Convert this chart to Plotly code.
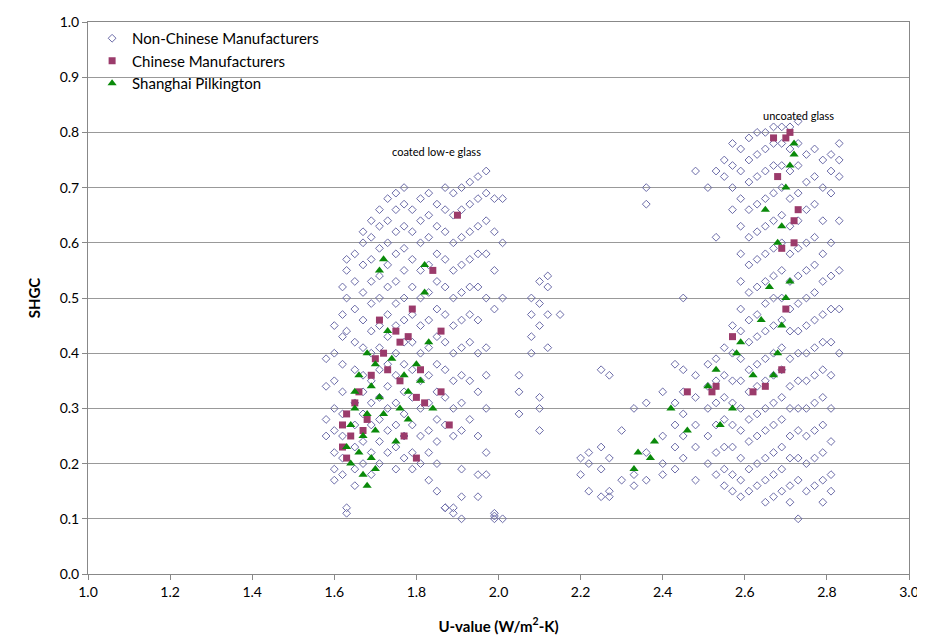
import plotly.graph_objects as go

# Non-Chinese manufacturers: U-value columns and the SHGC values read along each column
nc_u = [1.58, 1.60, 1.62, 1.63, 1.65, 1.67, 1.69, 1.71, 1.73, 1.75, 1.77, 1.79, 1.81, 1.83,
        1.85, 1.87, 1.89, 1.91, 1.93, 1.95, 1.97, 1.99, 2.01, 2.05, 2.08, 2.10, 2.12, 2.15,
        2.20, 2.22, 2.25, 2.27, 2.30, 2.33, 2.36, 2.40, 2.43, 2.45, 2.48, 2.51, 2.53, 2.55,
        2.57, 2.59, 2.61, 2.63, 2.65, 2.67, 2.69, 2.71, 2.73, 2.75, 2.77, 2.79, 2.81, 2.83]
nc_shgc = [
    [.39, .34, .28, .25],
    [.45, .40, .35, .30, .26, .22, .19, .17],
    [.52, .47, .43, .38, .33, .29, .25, .21, .18],
    [.57, .55, .50, .44, .12, .11],
    [.58, .53, .48, .42, .37, .31, .27, .23, .19, .16],
    [.62, .60, .56, .51, .46, .41, .36, .33, .29, .24, .20],
    [.64, .61, .57, .53, .49, .44, .40, .35, .31, .27, .22, .18],
    [.66, .63, .59, .54, .50, .45, .41, .37, .32, .28, .24, .20],
    [.68, .64, .60, .56, .52, .47, .43, .38, .34, .30, .26, .22],
    [.69, .66, .62, .58, .53, .49, .45, .40, .36, .31, .27, .23, .19],
    [.70, .67, .63, .59, .55, .50, .46, .42, .38, .33, .29, .25, .21],
    [.66, .62, .57, .52, .47, .42, .37, .32, .27, .22, .19],
    [.68, .64, .60, .55, .50, .45, .40, .35, .30, .25, .20],
    [.69, .65, .61, .56, .51, .46, .41, .36, .31, .26, .22, .17],
    [.67, .63, .58, .53, .48, .43, .38, .33, .28, .24, .20, .15],
    [.70, .66, .62, .57, .52, .47, .42, .37, .32, .27, .12, .12],
    [.69, .65, .60, .55, .50, .45, .40, .35, .30, .25, .12, .11],
    [.70, .66, .61, .56, .51, .46, .41, .36, .31, .26, .19, .14, .10],
    [.71, .67, .62, .57, .52, .47, .42, .35, .28],
    [.72, .68, .63, .58, .52, .46, .40, .33, .25, .18, .14],
    [.73, .69, .64, .58, .50, .41, .36, .30, .22, .18],
    [.68, .62, .55, .48, .11, .105, .10],
    [.68, .60, .50, .10],
    [.36, .33, .29],
    [.50, .47, .43, .40],
    [.53, .49, .45, .32, .30, .26],
    [.54, .52, .47, .41],
    [.47],
    [.18, .21],
    [.22, .20, .15],
    [.37, .23, .19, .14],
    [.36, .21, .15, .14],
    [.26, .17],
    [.30, .18, .16],
    [.70, .67, .31, .22, .17],
    [.33, .25, .20, .18],
    [.38, .31, .27, .23, .19],
    [.50, .37, .33, .29, .25, .21],
    [.73, .36, .32, .27, .23, .17],
    [.70, .38, .34, .30, .25, .20],
    [.73, .61, .39, .35, .31, .27, .22, .18],
    [.75, .72, .41, .36, .32, .28, .23, .19, .16],
    [.78, .74, .70, .66, .45, .40, .35, .31, .27, .23, .18, .15],
    [.77, .73, .68, .63, .58, .53, .48, .44, .39, .35, .30, .26, .21, .17, .14],
    [.79, .75, .71, .66, .61, .56, .51, .46, .42, .37, .33, .28, .24, .19, .15],
    [.80, .76, .72, .67, .62, .57, .52, .47, .43, .38, .34, .29, .25, .20, .16],
    [.80, .77, .73, .68, .63, .58, .53, .49, .44, .39, .35, .30, .26, .21, .17, .13],
    [.81, .78, .74, .69, .64, .59, .54, .50, .45, .40, .36, .31, .27, .22, .18, .14],
    [.81, .78, .74, .70, .65, .60, .55, .50, .46, .41, .37, .32, .28, .23, .19, .15],
    [.81, .77, .73, .68, .63, .58, .53, .48, .44, .39, .34, .30, .25, .21, .16, .13],
    [.82, .78, .74, .69, .64, .59, .54, .49, .44, .40, .35, .30, .26, .21, .17, .10],
    [.76, .71, .66, .60, .55, .50, .45, .40, .35, .30, .25, .20, .15],
    [.77, .72, .67, .61, .56, .51, .46, .41, .36, .31, .26, .21, .16],
    [.75, .70, .64, .58, .53, .47, .42, .37, .32, .27, .22, .17, .13],
    [.76, .73, .69, .60, .54, .48, .42, .36, .30, .24, .18, .15],
    [.78, .75, .72, .64, .55, .48, .40],
]

# Chinese manufacturers
cn_u = [1.62, 1.62, 1.63, 1.63, 1.64, 1.65, 1.66, 1.67, 1.68, 1.69, 1.70, 1.71, 1.72, 1.73, 1.75,
        1.76, 1.76, 1.77, 1.78, 1.79, 1.80, 1.80, 1.81, 1.82, 1.84, 1.86, 1.86, 1.88, 1.90,
        2.46, 2.52, 2.53, 2.57, 2.62, 2.65, 2.67, 2.68, 2.69, 2.70, 2.71, 2.72, 2.72, 2.73, 2.69, 2.70]
cn_shgc = [.23, .27, .21, .29, .25, .31, .33, .26, .28, .36, .39, .46, .40, .37, .44,
           .42, .35, .25, .43, .48, .21, .32, .37, .31, .55, .44, .33, .27, .65,
           .33, .33, .34, .43, .33, .34, .79, .72, .59, .79, .80, .64, .60, .66, .37, .48]

# Shanghai Pilkington
sp_u = [1.63, 1.64, 1.64, 1.65, 1.65, 1.66, 1.66, 1.67, 1.67, 1.68, 1.68, 1.68, 1.69, 1.69, 1.70,
        1.70, 1.70, 1.71, 1.71, 1.72, 1.72, 1.73, 1.74, 1.75, 1.76, 1.77, 1.78, 1.78, 1.80, 1.81,
        1.82, 1.82, 1.83, 1.84, 2.33, 2.34, 2.37, 2.38, 2.42, 2.46, 2.51, 2.53, 2.54, 2.57, 2.58,
        2.59, 2.62, 2.64, 2.65, 2.66, 2.67, 2.68, 2.68, 2.69, 2.69, 2.70, 2.70, 2.71, 2.71, 2.72, 2.72]
sp_shgc = [.23, .20, .27, .30, .33, .36, .22, .18, .25, .16, .29, .40, .21, .34, .19,
           .26, .38, .55, .32, .57, .29, .44, .39, .24, .30, .36, .33, .28, .38, .35,
           .56, .51, .42, .30, .19, .22, .21, .24, .30, .26, .34, .37, .27, .30, .40,
           .42, .36, .46, .66, .52, .36, .40, .60, .45, .63, .50, .70, .53, .74, .76, .78]

# flatten the non-Chinese columns
nc_x, nc_y = [], []
for u, ys in zip(nc_u, nc_shgc):
    nc_x += [u] * len(ys)
    nc_y += ys

fig = go.Figure()
fig.add_trace(go.Scatter(x=nc_x, y=nc_y, mode="markers", name="Non-Chinese Manufacturers",
                         marker=dict(symbol="diamond-open", size=6, color="#6b6ba8", line=dict(width=1))))
fig.add_trace(go.Scatter(x=cn_u, y=cn_shgc, mode="markers", name="Chinese Manufacturers",
                         marker=dict(symbol="square", size=7, color="#9b3b6b")))
fig.add_trace(go.Scatter(x=sp_u, y=sp_shgc, mode="markers", name="Shanghai Pilkington",
                         marker=dict(symbol="triangle-up", size=8, color="#0a8a0a")))

fig.add_annotation(x=1.85, y=0.765, text="coated low-e glass", showarrow=False, font=dict(size=11))
fig.add_annotation(x=2.73, y=0.83, text="uncoated glass", showarrow=False, font=dict(size=11))

fig.update_layout(
    width=925, height=643,
    margin=dict(l=80, r=24, t=14, b=77, autoexpand=False),
    plot_bgcolor="white", paper_bgcolor="white",
    font=dict(family="Lato", size=14, color="black"),
    legend=dict(x=0.005, y=1.0, xanchor="left", yanchor="top", bgcolor="rgba(0,0,0,0)",
                font=dict(size=15), tracegroupgap=0),
    xaxis=dict(range=[1.0, 3.0], dtick=0.2, tickformat=".1f", showgrid=False,
               showline=True, linecolor="#888", mirror=True, ticks="outside", ticklen=5,
               tickcolor="#888", zeroline=False,
               title=dict(text="<b>U-value (W/m<sup>2</sup>-K)</b>", font=dict(size=15), standoff=22)),
    yaxis=dict(range=[0, 1.0], dtick=0.1, tickformat=".1f", showgrid=True, gridcolor="#999",
               showline=True, linecolor="#888", mirror=True, ticks="outside", ticklen=5,
               tickcolor="#888", zeroline=False,
               title=dict(text="<b>SHGC</b>", font=dict(size=15))),
)

fig.write_html("out.html")
